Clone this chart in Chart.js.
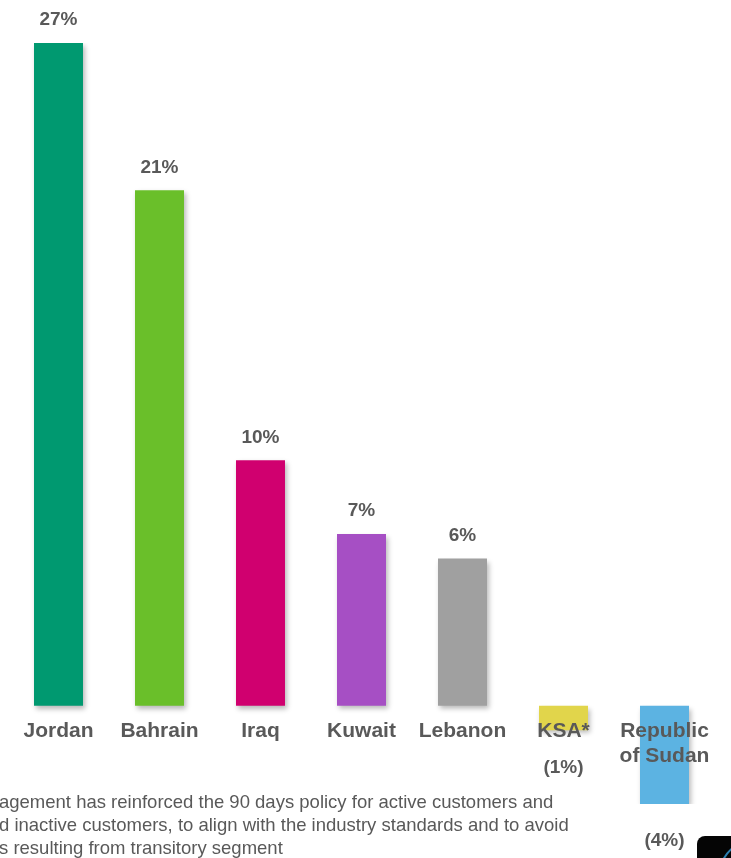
<!DOCTYPE html>
<html>
<head>
<meta charset="utf-8">
<script src="https://cdn.jsdelivr.net/npm/chart.js@4"></script>
<style>
  html, body { margin: 0; padding: 0; background: #fff; }
  #wrap { position: relative; width: 731px; height: 858px; }
  #marketChart { position: absolute; left: 0; top: 0; }
</style>
</head>
<body>
<div id="wrap">
  <canvas id="marketChart" width="731" height="858"></canvas>
</div>
<script>
// growth by market, percent
const markets = ['Jordan', 'Bahrain', 'Iraq', 'Kuwait', 'Lebanon', 'KSA*', ['Republic', 'of Sudan']];
const growth = [27, 21, 10, 7, 6, -1, -4];
const barColors = ['#009970', '#6abf2a', '#d0006f', '#a64fc4', '#a0a0a0', '#e1d54b', '#5cb3e2'];
const footnote = [
    'agement has reinforced the 90 days policy for active customers and',
    'd inactive customers, to align with the industry standards and to avoid',
    's resulting from transitory segment'
];

const textGray = '#595959';
const fontFamily = '"Liberation Sans", Arial, sans-serif';

// soft drop shadow under the bars
const barShadow = {
    id: 'barShadow',
    beforeDatasetsDraw(chart) {
        const ctx = chart.ctx;
        ctx.save();
        ctx.shadowColor = 'rgba(0,0,0,0.28)';
        ctx.shadowBlur = 5;
        ctx.shadowOffsetX = 2;
        ctx.shadowOffsetY = 3;
    },
    afterDatasetsDraw(chart) {
        chart.ctx.restore();
    }
};

// value labels above / below each bar and category names along the baseline
const barText = {
    id: 'barText',
    afterDatasetsDraw(chart) {
        const ctx = chart.ctx;
        const meta = chart.getDatasetMeta(0);
        ctx.save();
        ctx.fillStyle = textGray;
        ctx.textAlign = 'center';
        ctx.textBaseline = 'middle';

        ctx.font = 'bold 19px ' + fontFamily;
        meta.data.forEach((bar, i) => {
            const v = growth[i];
            if (v >= 0) {
                ctx.fillText(v + '%', bar.x, bar.y - 23);
            } else {
                // negatives sit below the category names
                ctx.fillText('(' + Math.abs(v) + '%)', bar.x, bar.y + 37);
            }
        });

        ctx.font = 'bold 21px ' + fontFamily;
        meta.data.forEach((bar, i) => {
            const lines = [].concat(markets[i]);
            lines.forEach((line, j) => {
                ctx.fillText(line, bar.x, 731 + j * 25);
            });
        });
        ctx.restore();
    }
};

// footnote text and the corner logo fragment
const pageExtras = {
    id: 'pageExtras',
    afterDraw(chart) {
        const ctx = chart.ctx;
        ctx.save();
        ctx.fillStyle = textGray;
        ctx.font = '18.5px ' + fontFamily;
        ctx.textAlign = 'left';
        ctx.textBaseline = 'middle';
        footnote.forEach((line, i) => {
            ctx.fillText(line, -1, 803 + i * 23);
        });

        ctx.fillStyle = '#050505';
        ctx.beginPath();
        ctx.roundRect(697, 836, 60, 40, 8);
        ctx.fill();
        ctx.strokeStyle = '#2c7fb0';
        ctx.lineWidth = 2;
        ctx.beginPath();
        ctx.arc(760, 880, 42, Math.PI * 1.12, Math.PI * 1.4);
        ctx.stroke();
        ctx.restore();
    }
};

new Chart(document.getElementById('marketChart').getContext('2d'), {
    type: 'bar',
    data: {
        labels: markets,
        datasets: [{
            data: growth,
            backgroundColor: barColors,
            borderWidth: 0,
            barPercentage: 0.485,
            categoryPercentage: 1
        }]
    },
    options: {
        responsive: false,
        maintainAspectRatio: false,
        animation: false,
        layout: {
            padding: { left: 8, right: 16, top: 43, bottom: 54 }
        },
        plugins: {
            legend: { display: false },
            tooltip: { enabled: false }
        },
        scales: {
            x: { display: false, grid: { display: false } },
            y: { display: false, min: -4, max: 27 }
        }
    },
    plugins: [barShadow, barText, pageExtras]
});
</script>
</body>
</html>
